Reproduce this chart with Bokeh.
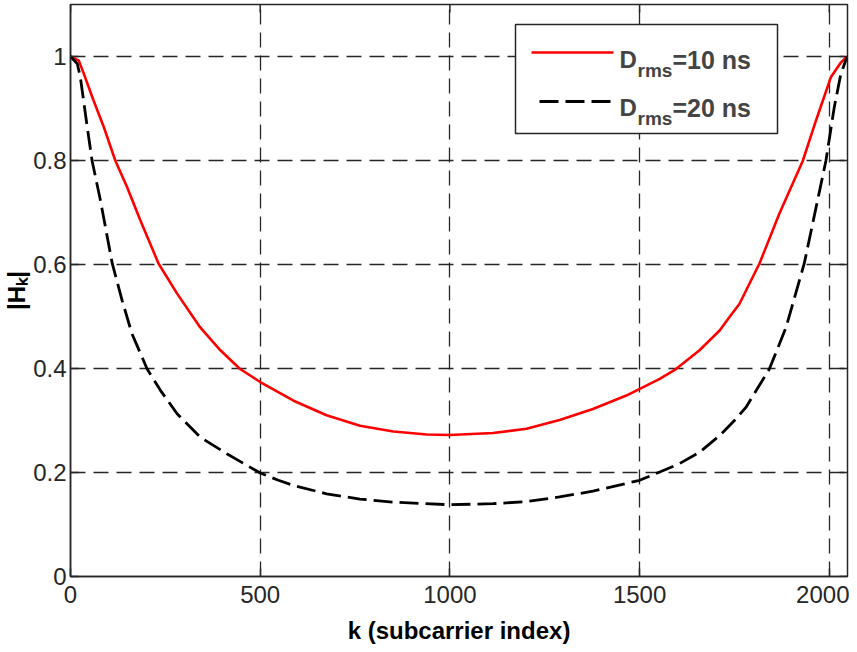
from bokeh.plotting import figure
from bokeh.models import Range1d, FixedTicker, BoxAnnotation, Label
from bokeh.embed import file_html
from bokeh.resources import INLINE

# ---------------- data ----------------
x_ticks = [0, 500, 1000, 1500, 2000]
x_tick_labels = ["0", "500", "1000", "1500", "2000"]
y_ticks = [0, 0.2, 0.4, 0.6, 0.8, 1.0]
y_tick_labels = ["0", "0.2", "0.4", "0.6", "0.8", "1"]

red_k = [0, 22, 35, 61, 88, 118, 149, 184, 232, 281, 342, 395, 447, 500, 588,
         675, 763, 851, 939, 1000, 1114, 1202, 1289, 1377, 1465, 1553, 1596,
         1658, 1711, 1737, 1763, 1816, 1868, 1930, 1965, 2004, 2030, 2047]
red_v = [1.000, 0.992, 0.967, 0.915, 0.864, 0.800, 0.749, 0.685, 0.602, 0.544,
         0.479, 0.435, 0.399, 0.374, 0.338, 0.310, 0.290, 0.279, 0.273, 0.272,
         0.276, 0.284, 0.301, 0.322, 0.348, 0.380, 0.399, 0.435, 0.473, 0.499,
         0.524, 0.602, 0.697, 0.799, 0.877, 0.960, 0.988, 1.000]

black_k = [0, 18, 26, 44, 57, 79, 110, 136, 162, 202, 237, 281, 342, 412, 500,
           548, 588, 675, 763, 851, 1000, 1114, 1202, 1289, 1377, 1465, 1500,
           1553, 1605, 1658, 1711, 1750, 1781, 1842, 1886, 1934, 1969, 1991,
           2013, 2030, 2047]
black_v = [1.000, 0.986, 0.960, 0.865, 0.799, 0.723, 0.602, 0.531, 0.467, 0.399,
           0.358, 0.313, 0.268, 0.236, 0.199, 0.185, 0.175, 0.159, 0.149, 0.143,
           0.138, 0.140, 0.144, 0.153, 0.164, 0.179, 0.185, 0.201, 0.217, 0.239,
           0.271, 0.300, 0.326, 0.399, 0.479, 0.602, 0.723, 0.799, 0.902, 0.965,
           1.000]

legend_main = ["D", "D"]
legend_sub = ["rms", "rms"]
legend_rest = ["=10 ns", "=20 ns"]
x_label = "k (subcarrier index)"
y_label = "|H\u2096|"

# ---------------- layout ----------------
XMAX = 2048
YMAX = 1.1
FX0, FX1, FY0 = 70, 847, 576      # frame left / right / bottom on the page (px)
PX_PER_Y = 520.0
FY1 = FY0 - YMAX * PX_PER_Y       # frame top (px)

def dx(px):
    return (px - FX0) / (FX1 - FX0) * XMAX

def dy(py):
    return (FY0 - py) / PX_PER_Y

INK = "#262626"
FONT = "Liberation Sans"
W, H = 849, 650

p = figure(width=W, height=H,
           x_range=Range1d(0, XMAX), y_range=Range1d(0, YMAX),
           output_backend="svg", toolbar_location=None,
           min_border_left=FX0, min_border_right=W - FX1,
           min_border_top=int(round(FY1)), min_border_bottom=H - FY0)
p.background_fill_color = "white"
p.border_fill_color = "white"
p.outline_line_color = INK
p.outline_line_width = 1.5

for ax in (p.xaxis[0], p.yaxis[0]):
    ax.axis_line_color = INK
    ax.axis_line_width = 1.5
    ax.major_tick_line_color = INK
    ax.major_tick_line_width = 1.5
    ax.major_tick_in = 8
    ax.major_tick_out = 0
    ax.minor_tick_in = 0
    ax.minor_tick_out = 0
    ax.major_label_text_font = FONT
    ax.major_label_text_color = INK
    ax.major_label_text_font_size = "24px"

p.xaxis.ticker = FixedTicker(ticks=x_ticks)
p.xaxis.major_label_overrides = {t: s for t, s in zip(x_ticks, x_tick_labels)}
p.yaxis.ticker = FixedTicker(ticks=y_ticks)
p.yaxis.major_label_overrides = {t: s for t, s in zip(y_ticks, y_tick_labels)}
p.xaxis.major_label_standoff = 9
p.yaxis.major_label_standoff = 4

p.xaxis.axis_label = x_label
p.xaxis.axis_label_text_font = FONT
p.xaxis.axis_label_text_font_size = "24px"
p.xaxis.axis_label_text_font_style = "bold"
p.xaxis.axis_label_text_color = "black"
p.xaxis.axis_label_standoff = 11

p.yaxis.axis_label = y_label
p.yaxis.axis_label_text_font = FONT
p.yaxis.axis_label_text_font_size = "24px"
p.yaxis.axis_label_text_font_style = "bold"
p.yaxis.axis_label_text_color = "black"
p.yaxis.axis_label_standoff = 0

p.xgrid.ticker = FixedTicker(ticks=x_ticks)
p.ygrid.ticker = FixedTicker(ticks=y_ticks)
for g in (p.xgrid[0], p.ygrid[0]):
    g.grid_line_color = INK
    g.grid_line_width = 1.3
    g.grid_line_dash = "15 8"
    g.grid_line_alpha = 1.0

# inward ticks on the top and right edges of the box
tick_y = 8 / PX_PER_Y
tick_x = 8 / (FX1 - FX0) * XMAX
p.segment(x0=x_ticks, y0=[YMAX] * len(x_ticks), x1=x_ticks,
          y1=[YMAX - tick_y] * len(x_ticks), line_color=INK, line_width=1.5)
p.segment(x0=[XMAX] * len(y_ticks), y0=y_ticks, x1=[XMAX - tick_x] * len(y_ticks),
          y1=y_ticks, line_color=INK, line_width=1.5)

# ---------------- curves ----------------
p.line(red_k, red_v, line_color="#ff0000", line_width=2.6)
p.line(black_k, black_v, line_color="black", line_width=2.8, line_dash="19 7")

# ---------------- legend (drawn by hand for the subscripts) ----------------
box = BoxAnnotation(left=dx(515), right=dx(777), top=dy(24), bottom=dy(133),
                    fill_color="white", fill_alpha=1.0,
                    line_color=INK, line_alpha=1.0, line_width=1.5,
                    level="annotation")
p.add_layout(box)
p.line([dx(531), dx(613)], [dy(52), dy(52)], line_color="#ff0000",
       line_width=2.6, level="overlay")
p.line([dx(539), dx(613)], [dy(101), dy(101)], line_color="black",
       line_width=2.8, line_dash="19 7", level="overlay")

rows_base = [59, 107]
for i in range(2):
    b = rows_base[i]
    p.add_layout(Label(x=dx(619), y=dy(b), text=legend_main[i], text_font=FONT,
                       text_font_size="24px", text_font_style="bold",
                       text_baseline="alphabetic", level="overlay"))
    p.add_layout(Label(x=dx(637), y=dy(b + 11), text=legend_sub[i], text_font=FONT,
                       text_font_size="19px", text_font_style="bold",
                       text_baseline="alphabetic", level="overlay"))
    p.add_layout(Label(x=dx(672), y=dy(b), text=legend_rest[i], text_font=FONT,
                       text_font_size="25px", text_font_style="bold",
                       text_baseline="alphabetic", level="overlay"))

open("out.html", "w").write(file_html(p, INLINE))
